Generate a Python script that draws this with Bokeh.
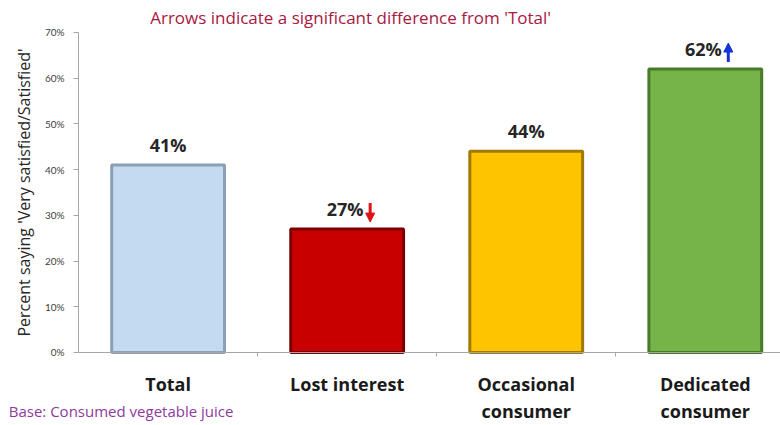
from bokeh.plotting import figure
from bokeh.models import (Range1d, FixedTicker, NumeralTickFormatter, ColumnDataSource,
                          Label, LinearAxis, Arrow, NormalHead)
from bokeh.core.properties import value
from bokeh.embed import file_html
from bokeh.resources import INLINE

# ---- data ----
categories = ["Total", "Lost interest", "Occasional\nconsumer", "Dedicated\nconsumer"]
values = [0.41, 0.27, 0.44, 0.62]
value_labels = ["41%", "27%", "44%", "62%"]
arrows = ["", "down", "", "up"]
bar_colors = ["#C3DAF0", "#C80000", "#FFC400", "#76B44A"]
edge_colors = ["#8C9FB3", "#7A0000", "#A07A00", "#477A2A"]
y_ticks = [0.0, 0.1, 0.2, 0.3, 0.4, 0.5, 0.6, 0.7]
subtitle = "Arrows indicate a significant difference from 'Total'"
base_note = "Base: Consumed vegetable juice"
y_title = "Percent saying 'Very satisfied/Satisfied'"

FONT = "Open Sans"
n = len(categories)
centers = [i + 0.5 for i in range(n)]
boundaries = [i for i in range(1, n)]

# pixel scale of the layout (used to convert pixel gaps into data units)
X_START, X_END = -0.436, 3.92
Y_START, Y_END = -0.1597, 0.770
W, H = 780, 425
px_x = (X_END - X_START) / W
px_y = (Y_END - Y_START) / H

src = ColumnDataSource(dict(
    x=centers, top=values, color=bar_colors, edge=edge_colors,
    label=value_labels,
    dx=[-2 if a else 0 for a in arrows],
))

p = figure(width=W, height=H,
           x_range=Range1d(X_START, X_END), y_range=Range1d(Y_START, Y_END),
           output_backend="svg", toolbar_location=None,
           min_border_left=0, min_border_right=0,
           min_border_top=0, min_border_bottom=0)
p.background_fill_color = "white"
p.border_fill_color = "white"
p.outline_line_color = None
p.xgrid.visible = False
p.ygrid.visible = False

p.vbar(x="x", top="top", width=0.63, source=src,
       fill_color="color", line_color="edge", line_width=3)

p.text(x="x", y="top", text="label", source=src,
       text_align="center", text_baseline="bottom",
       x_offset="dx", y_offset=-8,
       text_font=value(FONT), text_font_style="bold",
       text_font_size="18px", text_color="#262626")

# significance arrows
arrow_colors = {"up": "#1434D8", "down": "#E01414"}
for i, a in enumerate(arrows):
    if not a:
        continue
    ax = centers[i] + 23 * px_x
    lo = values[i] + 7 * px_y
    hi = values[i] + 26 * px_y
    ys, ye = (lo, hi) if a == "up" else (hi, lo)
    c = arrow_colors[a]
    p.add_layout(Arrow(x_start=ax, y_start=ys, x_end=ax, y_end=ye,
                       line_color=c, line_width=3,
                       end=NormalHead(size=9, fill_color=c, line_color=c, line_width=1)))

# y axis
p.yaxis.fixed_location = 0
p.yaxis.bounds = (0, 0.7)
p.yaxis.ticker = FixedTicker(ticks=y_ticks)
p.yaxis.formatter = NumeralTickFormatter(format="0%")
p.yaxis.axis_label = y_title
p.yaxis.axis_label_text_font = FONT
p.yaxis.axis_label_text_font_style = "normal"
p.yaxis.axis_label_text_font_size = "16px"
p.yaxis.axis_label_text_color = "#262626"
p.yaxis.axis_label_standoff = 7
p.yaxis.major_label_text_font = "Lato"
p.yaxis.major_label_text_font_size = "10px"
p.yaxis.major_label_text_color = "#404040"
p.yaxis.major_label_standoff = 9
p.yaxis.major_tick_out = 5
p.yaxis.major_tick_in = 0
p.yaxis.minor_tick_out = 0
p.yaxis.minor_tick_in = 0
p.yaxis.axis_line_color = "#A6A6A6"
p.yaxis.major_tick_line_color = "#A6A6A6"

# x axis: first line of each category label
cat_lines = [c.split("\n") for c in categories]
p.xaxis.fixed_location = 0
p.xaxis.bounds = (0, X_END)
p.xaxis.ticker = FixedTicker(ticks=centers, minor_ticks=boundaries)
p.xaxis.major_label_overrides = {c: l[0] for c, l in zip(centers, cat_lines)}
p.xaxis.major_label_text_font = FONT
p.xaxis.major_label_text_font_style = "bold"
p.xaxis.major_label_text_font_size = "18px"
p.xaxis.major_label_text_color = "#1A1A1A"
p.xaxis.major_label_standoff = 16
p.xaxis.major_tick_out = 0
p.xaxis.major_tick_in = 0
p.xaxis.minor_tick_out = 4
p.xaxis.minor_tick_in = 0
p.xaxis.axis_line_color = "#A6A6A6"
p.xaxis.minor_tick_line_color = "#A6A6A6"

# second line of category labels (wider line spacing than a single multi-line label)
ax2 = LinearAxis(fixed_location=0, bounds=(0, X_END),
                 ticker=FixedTicker(ticks=centers),
                 major_label_overrides={c: (l[1] if len(l) > 1 else "") for c, l in zip(centers, cat_lines)},
                 major_label_text_font=FONT, major_label_text_font_style="bold",
                 major_label_text_font_size="18px", major_label_text_color="#1A1A1A",
                 major_label_standoff=41,
                 axis_line_color=None, major_tick_line_color=None, minor_tick_line_color=None)
p.add_layout(ax2, "below")

# notes
p.add_layout(Label(x=0.4, y=0.733, text=subtitle,
                   text_font=FONT, text_font_size="17px", text_color="#A8183F",
                   text_baseline="middle", text_align="left"))
p.add_layout(Label(x=-0.39, y=-0.127, text=base_note,
                   text_font=FONT, text_font_size="15px", text_color="#8E3A9D",
                   text_baseline="middle", text_align="left"))

open("out.html", "w").write(file_html(p, INLINE))
